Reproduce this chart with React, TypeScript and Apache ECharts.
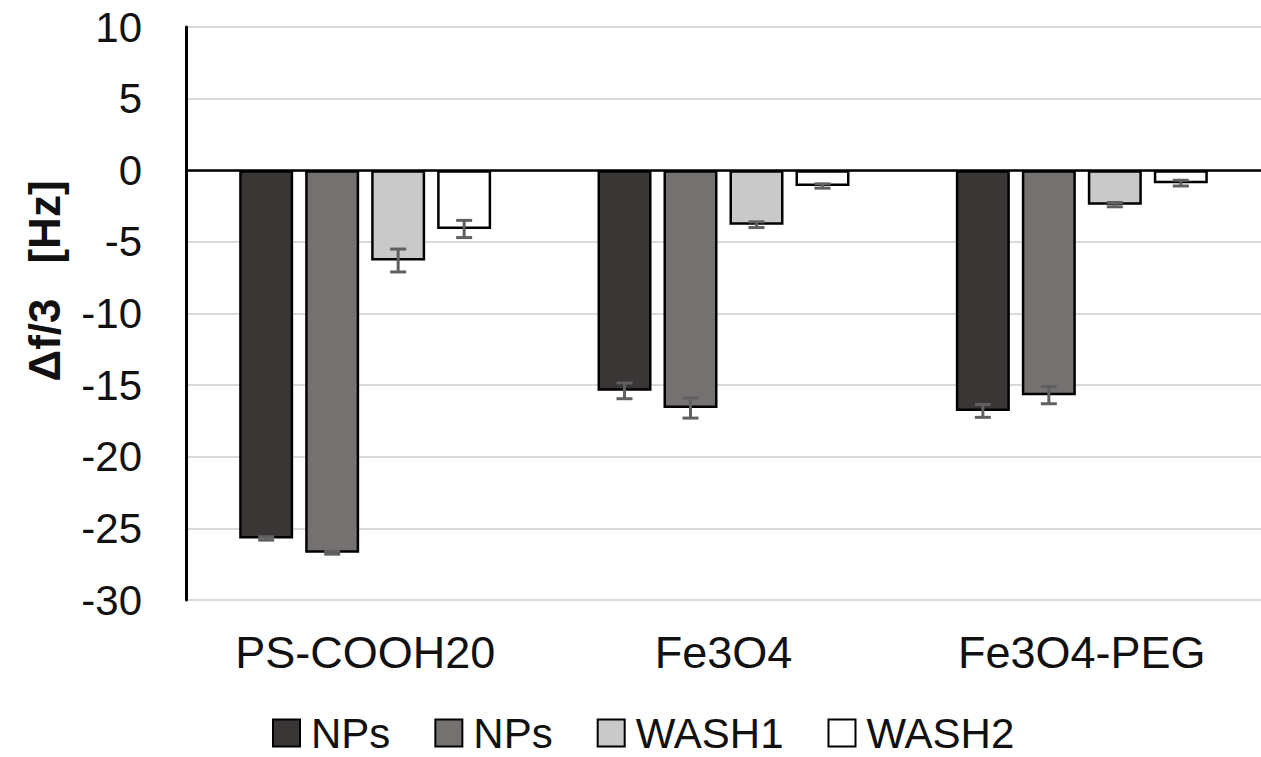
import React, { useEffect, useRef } from "react";
import * as echarts from "echarts";

// Categories and measured frequency shifts (Δf/3, Hz) with their standard deviations
const categories = ["PS-COOH20", "Fe3O4", "Fe3O4-PEG"];
const seriesNames = ["NPs-1", "NPs-2", "WASH1", "WASH2"];
const npsFirst = [-25.7, -15.4, -16.8];
const npsFirstErr = [0.12, 0.55, 0.45];
const npsSecond = [-26.7, -16.6, -15.7];
const npsSecondErr = [0.1, 0.7, 0.6];
const wash1 = [-6.3, -3.8, -2.4];
const wash1Err = [0.8, 0.2, 0.15];
const wash2 = [-4.1, -1.1, -0.9];
const wash2Err = [0.6, 0.15, 0.2];
const yTicks = { min: -30, max: 10, interval: 5 };

const values = [npsFirst, npsSecond, wash1, wash2];
const errors = [npsFirstErr, npsSecondErr, wash1Err, wash2Err];
const fills = ["#3b3636", "#767171", "#c9c9c9", "#ffffff"];

const BAR_W = 54;
const BAR_GAP = 0.222;
const FONT = "Liberation Sans, Arial, sans-serif";

export default function App() {
  const ref = useRef<HTMLDivElement>(null);

  useEffect(() => {
    if (!ref.current) return;
    const chart = echarts.init(ref.current, null, { renderer: "svg" });

    const step = BAR_W * (1 + BAR_GAP);
    const n = seriesNames.length;

    const barSeries = seriesNames.map((name, i) => ({
      name,
      type: "bar",
      data: values[i],
      barWidth: BAR_W,
      barGap: `${BAR_GAP * 100}%`,
      itemStyle: { color: fills[i], borderColor: "#000", borderWidth: 2.5 },
      z: 2,
      ...(i === 0
        ? {
            markLine: {
              silent: true,
              symbol: "none",
              label: { show: false },
              lineStyle: { color: "#000", width: 2.5, type: "solid" },
              data: [{ yAxis: 0 }],
              z: 5,
            },
          }
        : {}),
    }));

    const errorSeries = seriesNames.map((name, i) => ({
      name: name + "-err",
      type: "custom",
      z: 4,
      silent: true,
      data: values[i].map((v, c) => [c, v, errors[i][c]]),
      renderItem: (params: any, api: any) => {
        const c = api.value(0);
        const v = api.value(1);
        const e = api.value(2);
        const offset = (i - (n - 1) / 2) * step;
        const hi = api.coord([c, v + e]);
        const lo = api.coord([c, v - e]);
        const x = hi[0] + offset;
        const cap = 8;
        const style = { stroke: "#606060", lineWidth: 3 };
        return {
          type: "group",
          children: [
            { type: "line", shape: { x1: x, y1: hi[1], x2: x, y2: lo[1] }, style },
            { type: "line", shape: { x1: x - cap, y1: hi[1], x2: x + cap, y2: hi[1] }, style },
            { type: "line", shape: { x1: x - cap, y1: lo[1], x2: x + cap, y2: lo[1] }, style },
          ],
        };
      },
    }));

    chart.setOption({
      animation: false,
      backgroundColor: "#ffffff",
      grid: { left: 186, top: 27, width: 1089, height: 573, containLabel: false },
      xAxis: {
        type: "category",
        data: categories,
        position: "bottom",
        axisLine: { show: false },
        axisTick: { show: false },
        axisLabel: { color: "#111", fontSize: 45, fontFamily: FONT, margin: 30 },
      },
      yAxis: {
        type: "value",
        min: yTicks.min,
        max: yTicks.max,
        interval: yTicks.interval,
        axisLine: { show: true, lineStyle: { color: "#000", width: 3 } },
        axisTick: { show: false },
        axisLabel: { color: "#111", fontSize: 42, fontFamily: FONT, margin: 44 },
        splitLine: { lineStyle: { color: "#d9d9d9", width: 2 } },
      },
      legend: {
        data: seriesNames,
        left: 272,
        top: 712,
        padding: 0,
        itemWidth: 27,
        itemHeight: 27,
        itemGap: 44,
        icon: "rect",
        formatter: (name: string) => (name.startsWith("NPs") ? "NPs" : name),
        textStyle: { color: "#111", fontSize: 42, fontFamily: FONT, padding: [0, 0, 0, 6] },
      },
      graphic: [
        {
          type: "text",
          x: 44,
          y: 340,
          rotation: Math.PI / 2,
          style: {
            text: "Δf/3",
            font: `bold 44px ${FONT}`,
            fill: "#111",
            align: "center",
            verticalAlign: "middle",
          },
        },
        {
          type: "text",
          x: 44,
          y: 222,
          rotation: Math.PI / 2,
          style: {
            text: "[Hz]",
            font: `bold 44px ${FONT}`,
            fill: "#111",
            align: "center",
            verticalAlign: "middle",
          },
        },
      ],
      series: [...barSeries, ...errorSeries],
    });

    return () => chart.dispose();
  }, []);

  return (
    <div
      ref={ref}
      style={{ position: "fixed", left: 0, top: 0, width: 1261, height: 757, background: "#fff" }}
    />
  );
}
